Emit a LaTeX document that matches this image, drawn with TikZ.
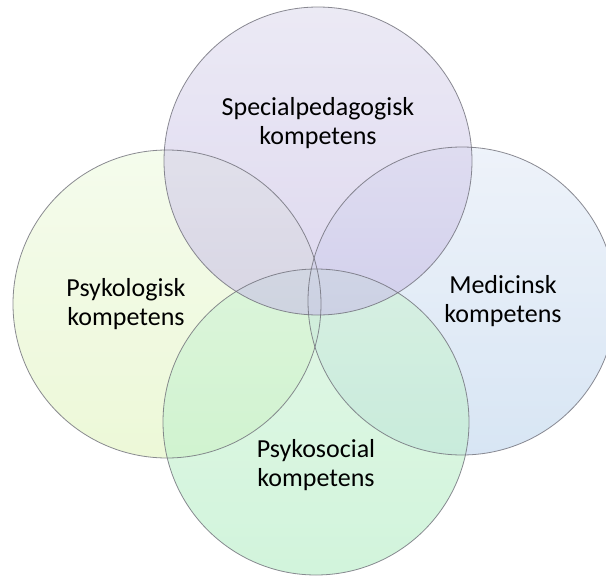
\documentclass[tikz,border=0pt]{standalone}
\usepackage{fontspec}
\setmainfont{Carlito}
\definecolor{pTop}{RGB}{223,220,238}
\definecolor{pBot}{RGB}{200,190,230}
\definecolor{lTop}{RGB}{238,250,225}
\definecolor{lBot}{RGB}{225,244,190}
\definecolor{rTop}{RGB}{227,235,247}
\definecolor{rBot}{RGB}{190,213,237}
\definecolor{gTop}{RGB}{207,242,213}
\definecolor{gBot}{RGB}{180,238,197}
\definecolor{rim}{RGB}{110,110,120}
\tikzset{
  ball/.style={fill opacity=0.6},
  rimline/.style={draw=rim, line width=0.8pt, draw opacity=0.8},
  lbl/.style={align=center, font=\fontsize{26}{29}\selectfont, text=black, inner sep=0pt}
}
\begin{document}
\begin{tikzpicture}[x=1pt,y=-1pt]
\useasboundingbox (0,0) rectangle (606,576);
\clip (0,0) rectangle (606,576);
\fill[white] (0,0) rectangle (606,576);
% circles
\shade[ball, top color=lTop, bottom color=lBot] (167,304) circle (154);
\shade[ball, top color=rTop, bottom color=rBot] (462,301) circle (154);
\shade[ball, top color=gTop, bottom color=gBot] (316,422) circle (153);
\shade[ball, top color=pTop, bottom color=pBot] (318,161) circle (154);
\draw[rimline] (167,304) circle (154);
\draw[rimline] (462,301) circle (154);
\draw[rimline] (316,422) circle (153);
\draw[rimline] (318,161) circle (154);
% labels
\node[lbl] (sp) at (318,123) {Specialpedagogisk\\kompetens};
\node[lbl] (ps) at (126,304) {Psykologisk\\kompetens};
\node[lbl] (me) at (503,301) {Medicinsk\\kompetens};
\node[lbl] (so) at (316,465) {Psykosocial\\kompetens};
\end{tikzpicture}
\end{document}
